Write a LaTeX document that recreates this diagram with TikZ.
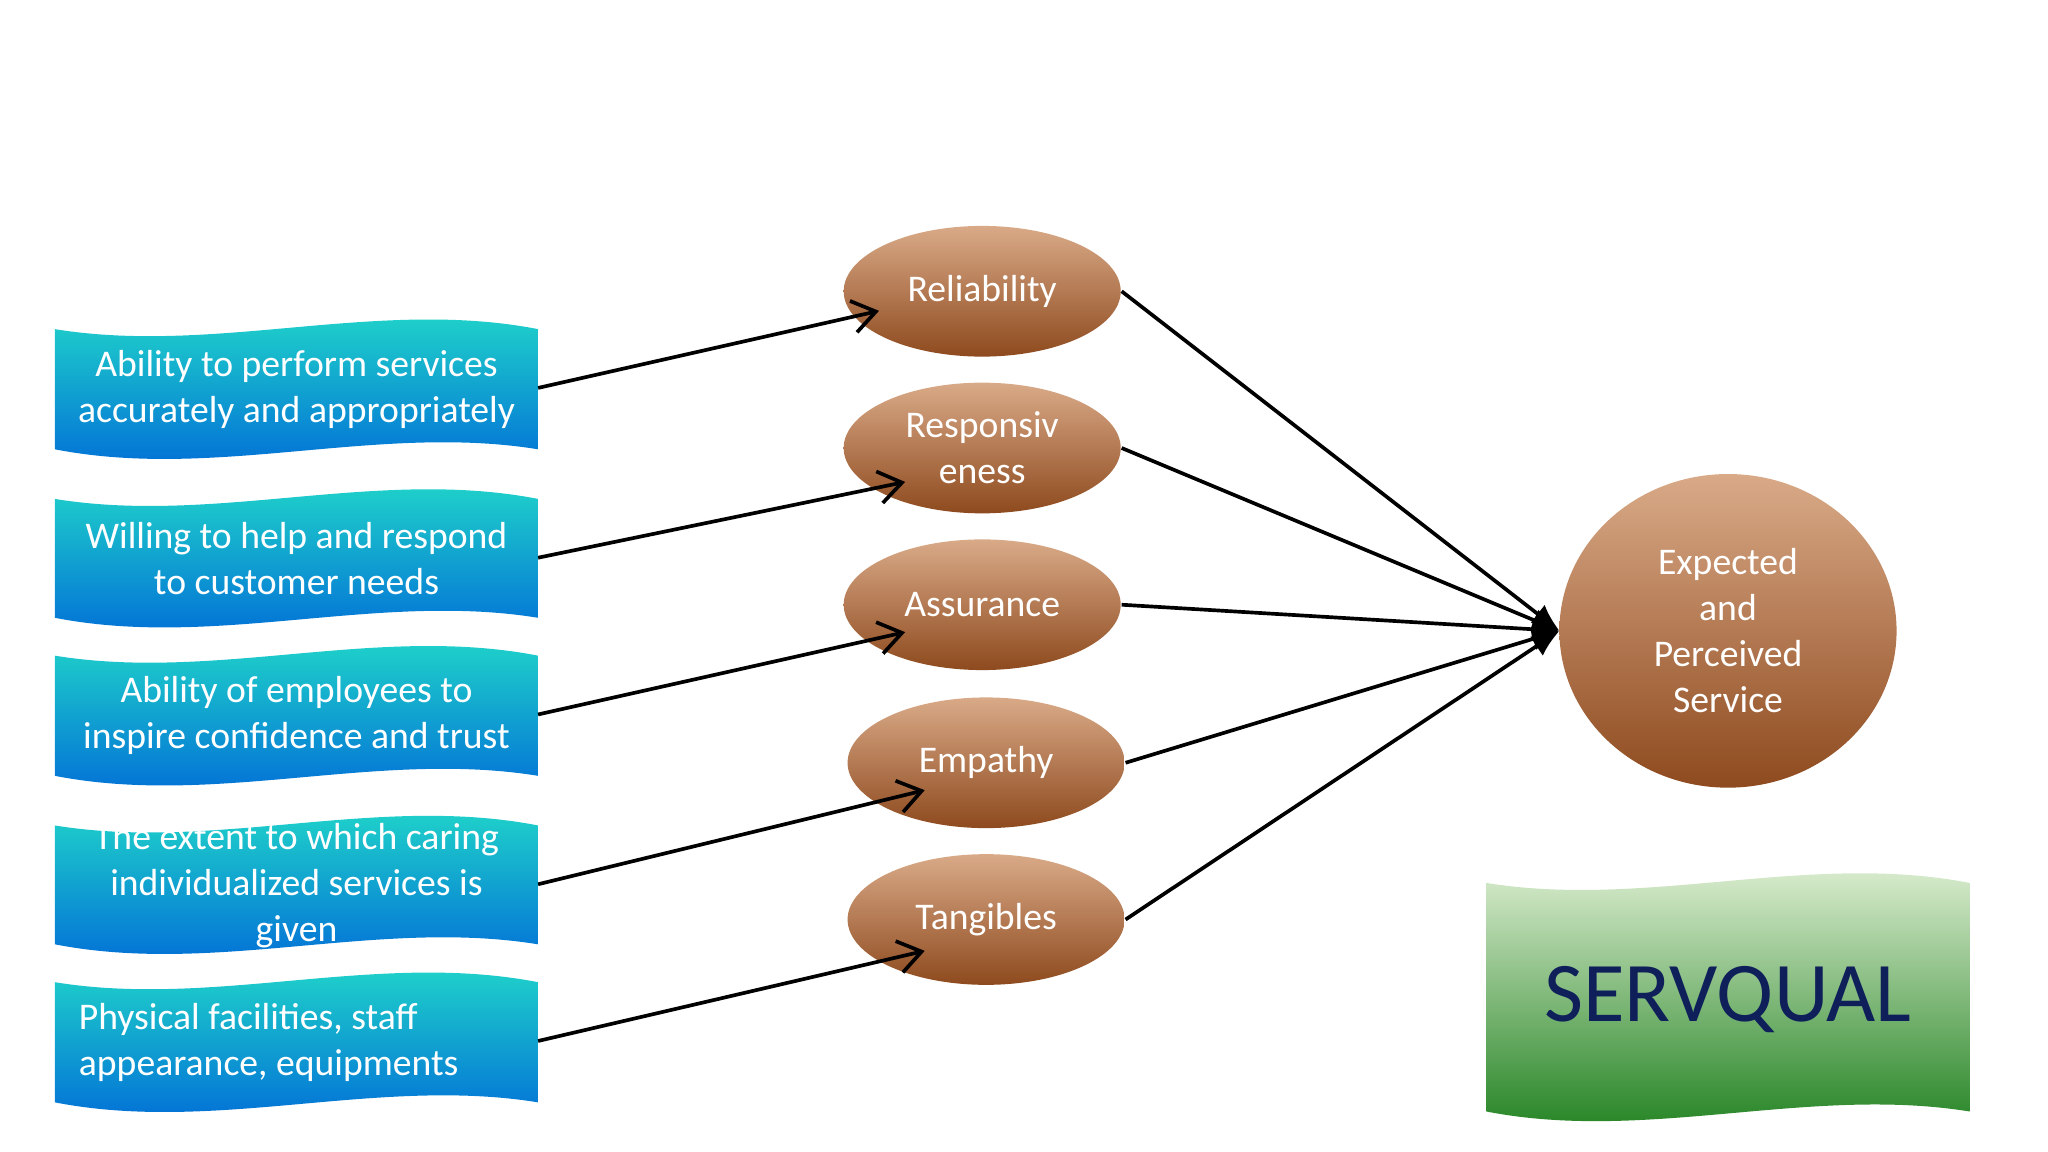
\documentclass[tikz,border=0pt]{standalone}
\usepackage{fontspec}
\setmainfont{Carlito}
\usetikzlibrary{arrows.meta,shapes.geometric}
\begin{document}
\begin{tikzpicture}[x=0.01cm,y=-0.01cm,
  wtxt/.style={text=white,font=\fontsize{8.2pt}{10pt}\selectfont,align=center},
  conn/.style={-{Straight Barb[length=5pt,width=7pt]},line width=0.8pt},
  conn2/.style={-{Latex[length=6pt,width=5pt]},line width=0.8pt}]
\tikzset{oval/.style={ellipse,minimum width=2.12cm,minimum height=1.0cm,inner sep=0pt,top color=oc1,bottom color=oc2,draw=none}}
\definecolor{oc1}{HTML}{D9AA88}\definecolor{oc2}{HTML}{8E4A1E}
\definecolor{bc1}{HTML}{22DCC8}\definecolor{bc2}{HTML}{0068D8}
\definecolor{gc1}{HTML}{E4F2D8}\definecolor{gc2}{HTML}{1C7F1C}
\definecolor{navy}{HTML}{0F1F5A}
\useasboundingbox (0,0) rectangle (1568,882);
\newcommand\wavebox[6]{% x0 x1 top bottom c1 c2
  \shade[top color=#5,bottom color=#6] (#1,#3+4) .. controls ({#1+(#2-#1)/3},#3+24) and ({#1+2*(#2-#1)/3},#3-20) .. (#2,#3+4)
   -- (#2,#4-4) .. controls ({#2-(#2-#1)/3},#4-24) and ({#2-2*(#2-#1)/3},#4+20) .. (#1,#4-4) -- cycle;}
\wavebox{42}{412}{248}{348}{bc1}{bc2}
\wavebox{42}{412}{378}{477}{bc1}{bc2}
\wavebox{42}{412}{498}{598}{bc1}{bc2}
\wavebox{42}{412}{628}{727}{bc1}{bc2}
\wavebox{42}{412}{748}{848}{bc1}{bc2}
\wavebox{1138}{1508}{672}{855}{gc1}{gc2}
\node[wtxt] (b1) at (227,298) {Ability to perform services\\accurately and appropriately};
\node[wtxt] (b2) at (227,428) {Willing to help and respond\\to customer needs};
\node[wtxt] (b3) at (227,548) {Ability of employees to\\inspire confidence and trust};
\node[wtxt] (b4) at (227,678) {The extent to which caring\\individualized services is\\given};
\node[wtxt,align=left,anchor=west] (b5) at (48,798) {Physical facilities, staff\\appearance, equipments};
\node[text=navy,font=\fontsize{18.5pt}{20pt}\selectfont] (sq) at (1323,765) {SERVQUAL};
\node[oval,wtxt] (r1) at (752,223) {Reliability};
\node[oval,wtxt] (r2) at (752,343) {Responsiv\\eness};
\node[oval,wtxt] (r3) at (752,463) {Assurance};
\node[oval,wtxt] (r4) at (755,584) {Empathy};
\node[oval,wtxt] (r5) at (755,704) {Tangibles};
\node[oval,wtxt,minimum width=2.58cm,minimum height=2.40cm] (c) at (1323,483) {Expected\\and\\Perceived\\Service};
\coordinate (e1) at (412,297); \coordinate (t1) at (673,238);
\coordinate (e2) at (412,427); \coordinate (t2) at (693,369);
\coordinate (e3) at (412,547); \coordinate (t3) at (693,484);
\coordinate (e4) at (412,677); \coordinate (t4) at (708,605);
\coordinate (e5) at (412,797); \coordinate (t5) at (708,728);
\coordinate (cw) at (1194,483);
\foreach \i in {1,...,5}{\draw[conn] (e\i) -- (t\i);}
\foreach \i in {1,...,5}{\draw[conn2] (r\i.east) -- (cw);}
\end{tikzpicture}
\end{document}
